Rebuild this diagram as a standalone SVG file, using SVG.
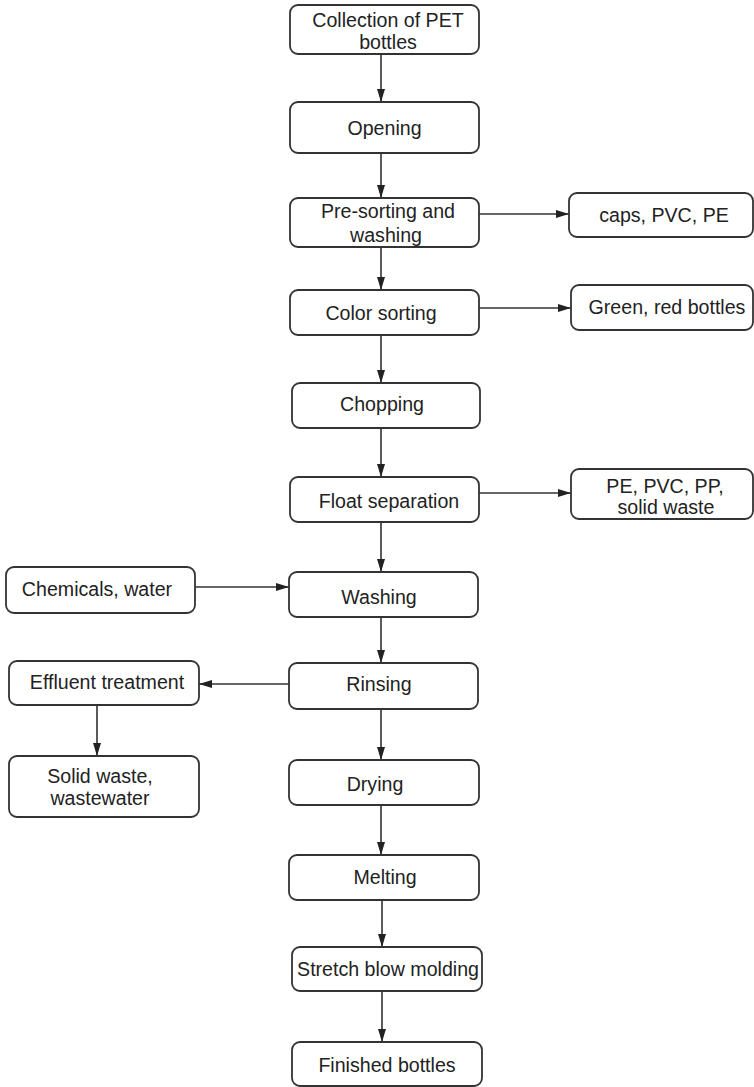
<svg xmlns="http://www.w3.org/2000/svg" width="754" height="1087" viewBox="0 0 754 1087">
<style>
.box{fill:#fff;stroke:#333;stroke-width:1.8}
.t{font-family:"Liberation Sans",Arial,sans-serif;font-size:19.6px;fill:#222;text-anchor:middle}
.c{stroke:#333;stroke-width:1.6;fill:none;marker-end:url(#ah)}
</style>
<defs>
<marker id="ah" viewBox="0 0 13 8" refX="13" refY="4" markerWidth="13" markerHeight="8" markerUnits="userSpaceOnUse" orient="auto">
<path d="M0,0 L13,4 L0,8 Z" fill="#222"/>
</marker>
</defs>
<rect width="754" height="1087" fill="#fff"/>
<g id="connectors">
<line class="c" x1="381" y1="54" x2="381" y2="102"/>
<line class="c" x1="381" y1="153" x2="381" y2="198"/>
<line class="c" x1="381" y1="247" x2="381" y2="290"/>
<line class="c" x1="479" y1="214" x2="569" y2="214"/>
<line class="c" x1="479" y1="308" x2="571" y2="308"/>
<line class="c" x1="381" y1="335" x2="381" y2="383"/>
<line class="c" x1="381" y1="428" x2="381" y2="477"/>
<line class="c" x1="479" y1="493" x2="571" y2="493"/>
<line class="c" x1="381" y1="522" x2="381" y2="572"/>
<line class="c" x1="195" y1="587" x2="289" y2="587"/>
<line class="c" x1="381" y1="617" x2="381" y2="663"/>
<line class="c" x1="289" y1="684" x2="199" y2="684"/>
<line class="c" x1="97" y1="705" x2="97" y2="756"/>
<line class="c" x1="381" y1="709" x2="381" y2="760"/>
<line class="c" x1="381" y1="805" x2="381" y2="855"/>
<line class="c" x1="382" y1="900" x2="382" y2="947"/>
<line class="c" x1="382" y1="991" x2="382" y2="1042"/>
</g>
<g id="n1"><rect class="box" x="290" y="5" width="189" height="49" rx="8"/><text class="t" x="388" y="27">Collection of PET</text><text class="t" x="388" y="49">bottles</text></g>
<g id="n2"><rect class="box" x="290" y="102" width="189" height="51" rx="8"/><text class="t" x="384.5" y="135">Opening</text></g>
<g id="n3"><rect class="box" x="290" y="198" width="189" height="49" rx="8"/><text class="t" x="388" y="218">Pre-sorting and</text><text class="t" x="386" y="242">washing</text></g>
<g id="n4"><rect class="box" x="569" y="193" width="184" height="44" rx="8"/><text class="t" x="664" y="222">caps, PVC, PE</text></g>
<g id="n5"><rect class="box" x="290" y="290" width="189" height="45" rx="8"/><text class="t" x="381" y="320">Color sorting</text></g>
<g id="n6"><rect class="box" x="571" y="285" width="182" height="45" rx="8"/><text class="t" x="667" y="314">Green, red bottles</text></g>
<g id="n7"><rect class="box" x="292" y="383" width="188" height="45" rx="8"/><text class="t" x="382" y="411">Chopping</text></g>
<g id="n8"><rect class="box" x="290" y="477" width="189" height="45" rx="8"/><text class="t" x="389" y="508">Float separation</text></g>
<g id="n9"><rect class="box" x="571" y="469" width="182" height="50" rx="8"/><text class="t" x="665" y="493">PE, PVC, PP,</text><text class="t" x="666" y="514">solid waste</text></g>
<g id="n10"><rect class="box" x="6" y="567" width="189" height="46" rx="8"/><text class="t" x="97" y="596">Chemicals, water</text></g>
<g id="n11"><rect class="box" x="289" y="572" width="189" height="45" rx="8"/><text class="t" x="379" y="604">Washing</text></g>
<g id="n12"><rect class="box" x="289" y="663" width="189" height="46" rx="8"/><text class="t" x="379" y="691">Rinsing</text></g>
<g id="n13"><rect class="box" x="9" y="661" width="190" height="44" rx="8"/><text class="t" x="107" y="689">Effluent treatment</text></g>
<g id="n14"><rect class="box" x="9" y="756" width="190" height="61" rx="8"/><text class="t" x="100" y="783">Solid waste,</text><text class="t" x="100" y="805">wastewater</text></g>
<g id="n15"><rect class="box" x="289" y="760" width="190" height="45" rx="8"/><text class="t" x="375" y="791">Drying</text></g>
<g id="n16"><rect class="box" x="289" y="855" width="190" height="45" rx="8"/><text class="t" x="385" y="884">Melting</text></g>
<g id="n17"><rect class="box" x="292" y="947" width="190" height="44" rx="8"/><text class="t" x="388" y="976">Stretch blow molding</text></g>
<g id="n18"><rect class="box" x="292" y="1042" width="190" height="44" rx="8"/><text class="t" x="387" y="1072">Finished bottles</text></g>
</svg>
